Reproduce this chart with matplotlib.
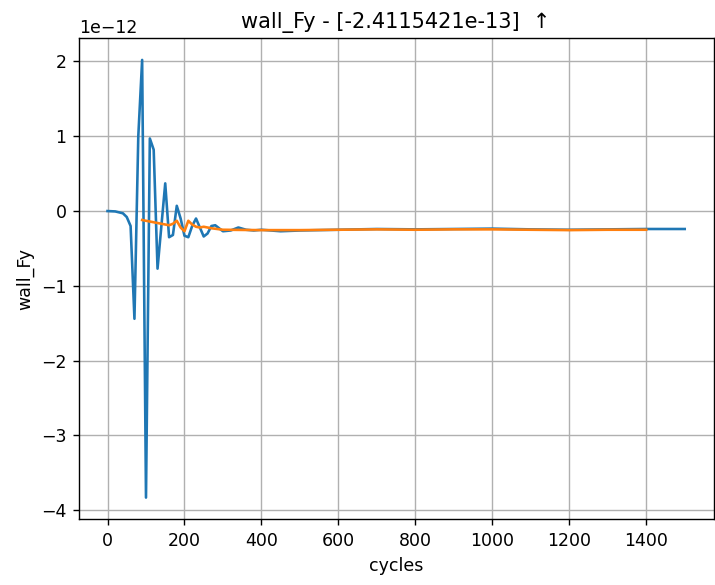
import matplotlib
matplotlib.use("Agg")
import matplotlib.pyplot as plt

# blue: raw wall_Fy per cycle (units of 1e-12)
raw_cycles = [0, 20, 40, 50, 60, 70, 80, 90, 100, 110, 120, 130, 140, 150,
              160, 170, 180, 190, 200, 210, 220, 230, 240, 250, 260, 270,
              280, 290, 300, 320, 340, 360, 380, 400, 450, 500, 600, 700,
              800, 900, 1000, 1100, 1200, 1300, 1400, 1500]
raw_vals = [0.0, -0.005, -0.03, -0.08, -0.2, -1.44, 1.0, 2.02, -3.83, 0.97,
            0.82, -0.77, -0.2, 0.37, -0.35, -0.32, 0.07, -0.1, -0.33, -0.35,
            -0.2, -0.1, -0.22, -0.34, -0.3, -0.2, -0.19, -0.23, -0.27, -0.26,
            -0.22, -0.25, -0.26, -0.25, -0.27, -0.26, -0.25, -0.24, -0.245,
            -0.24, -0.235, -0.245, -0.25, -0.245, -0.24, -0.24]

# orange: smoothed
avg_cycles = [90, 100, 120, 140, 160, 170, 180, 190, 200, 210, 220, 230,
              240, 250, 270, 300, 400, 500, 600, 700, 800, 900, 1000, 1100,
              1200, 1300, 1400]
avg_vals = [-0.12, -0.13, -0.15, -0.17, -0.19, -0.17, -0.13, -0.22, -0.27,
            -0.13, -0.18, -0.21, -0.22, -0.21, -0.23, -0.25, -0.255, -0.255,
            -0.25, -0.245, -0.25, -0.245, -0.245, -0.25, -0.255, -0.25, -0.25]

scale = 1e-12

dpi = 125
fig, ax = plt.subplots(figsize=(715 / dpi, 585 / dpi), dpi=dpi)
fig.subplots_adjust(left=0.11, right=0.998, top=0.935, bottom=0.112)

ax.plot(raw_cycles, [v * scale for v in raw_vals], color='tab:blue')
ax.plot(avg_cycles, [v * scale for v in avg_vals], color='tab:orange')

ax.set_title('wall_Fy - [-2.4115421e-13]  \u2191')
ax.set_xlabel('cycles')
ax.set_ylabel('wall_Fy')
ax.grid(True)

fig.savefig('out.png')
